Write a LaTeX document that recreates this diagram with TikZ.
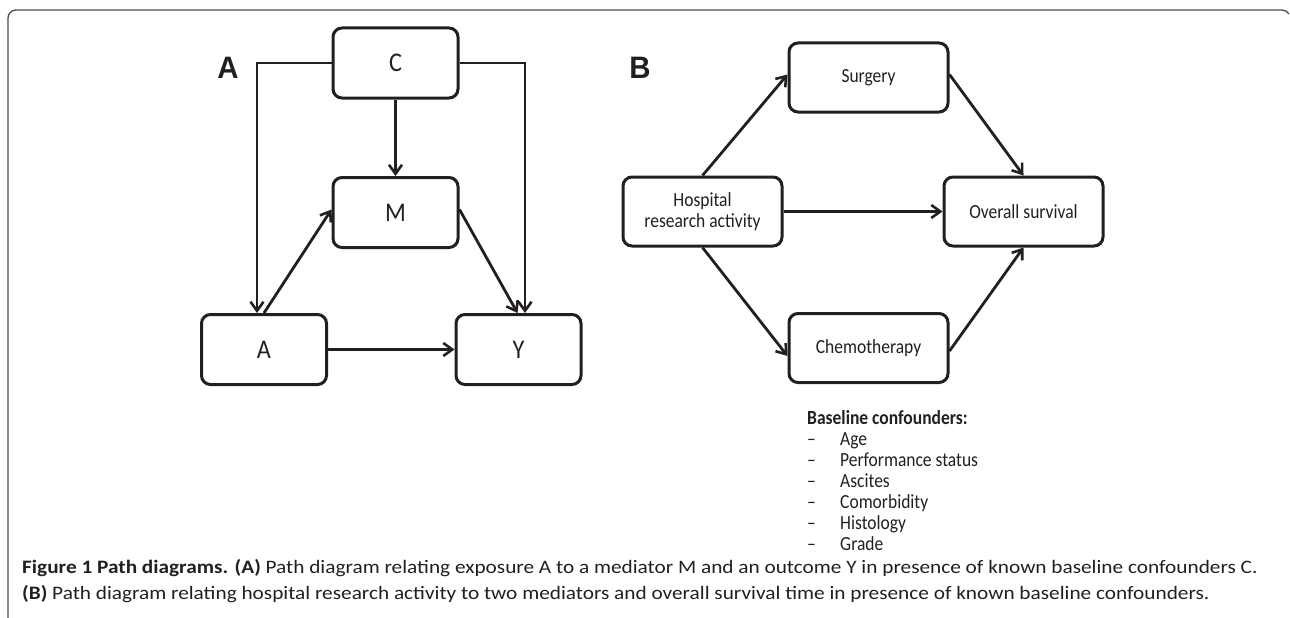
\documentclass[tikz,border=0pt]{standalone}
\usepackage{fontspec}
\setmainfont{Carlito}[FakeStretch=0.875]
\newfontfamily\narrowfont{Carlito}[FakeStretch=0.9]
\newfontfamily\capfont{Carlito}[FakeStretch=1.12]
\newfontfamily\labfont{Liberation Sans}[FakeStretch=0.95]
\usetikzlibrary{arrows.meta}
\definecolor{ink}{HTML}{231F20}
\definecolor{framec}{HTML}{4A4A4A}
\begin{document}
\begin{tikzpicture}[x=1pt,y=-1pt,
  box/.style={draw=ink, line width=3pt, rounded corners=9pt, inner sep=0pt, align=center, text=ink},
  boxA/.style={box, minimum width=125pt, minimum height=70pt, font=\narrowfont\fontsize{27}{30}\selectfont},
  boxB/.style={box, minimum width=159pt, minimum height=69pt, font=\fontsize{20}{21}\selectfont},
  arr/.style={draw=ink, line width=2.8pt, -{Straight Barb[length=9pt,width=13pt,line width=2.6pt]}},
  panel/.style={font=\labfont\bfseries\fontsize{31}{34}\selectfont, text=ink, inner sep=0pt},
  listtxt/.style={font=\fontsize{20}{21}\selectfont, text=ink, inner sep=0pt, anchor=base west},
  captxt/.style={inner sep=0pt, anchor=base west, text=ink, font=\capfont\fontsize{19}{26}\selectfont}
]
\useasboundingbox (0,0) rectangle (1290,618);
% frame
\draw[framec, line width=1.3pt] (8,618) -- (8,18) arc[start angle=180, end angle=270, radius=8] -- (1282,10) arc[start angle=270, end angle=330, radius=8];

% panel A
\node[panel] (labA) at (228,68) {A};
\node[boxA] (C) at (395.5,63) {C};
\node[boxA] (M) at (395.5,212.5) {M};
\node[boxA] (A) at (264,349.5) {A};
\node[boxA] (Y) at (518.5,349.5) {Y};
\draw[arr] (C.west) -| ([xshift=-7pt]A.north);
\draw[arr] (C.east) -| ([xshift=6.5pt]Y.north);
\draw[arr] (C.south) -- (M.north);
\draw[arr] (A.north) -- ([yshift=3pt]M.west);
\draw[arr] ([yshift=3pt]M.east) -- ([xshift=-1pt]Y.north);
\draw[arr] (A.east) -- (Y.west);

% panel B
\node[panel] (labB) at (640,68) {B};
\node[boxB] (S) at (868.5,77.5) {Surgery};
\node[boxB] (H) at (702.5,211.5) {Hospital\\research activity};
\node[boxB] (O) at (1023.5,211.5) {Overall survival};
\node[boxB] (Ch) at (868.5,348) {Chemotherapy};
\draw[arr] (H.north) -- ([yshift=3pt]S.west);
\draw[arr] ([yshift=3pt]S.east) -- (O.north);
\draw[arr] (H.east) -- (O.west);
\draw[arr] (H.south) -- ([yshift=-8pt]Ch.west);
\draw[arr] ([yshift=-3pt]Ch.east) -- (O.south);

% baseline confounders
\node[listtxt, font=\bfseries\fontsize{20}{21}\selectfont] (bc) at (807,424) {Baseline confounders:};
\foreach \i/\t in {1/Age,2/Performance status,3/Ascites,4/Comorbidity,5/Histology,6/Grade}{
  \node[listtxt] (d\i) at (807,424+21*\i) {--};
  \node[listtxt] (t\i) at (840,424+21*\i) {\t};
}

% caption
\node[captxt] (cap1) at (22,573)
  {\textbf{Figure 1 Path diagrams. (A)} Path diagram relating exposure A to a mediator M and an outcome Y in presence of known baseline confounders C.};
\node[captxt] (cap2) at (22,599)
  {\textbf{(B)} Path diagram relating hospital research activity to two mediators and overall survival time in presence of known baseline confounders.};
\end{tikzpicture}
\end{document}
